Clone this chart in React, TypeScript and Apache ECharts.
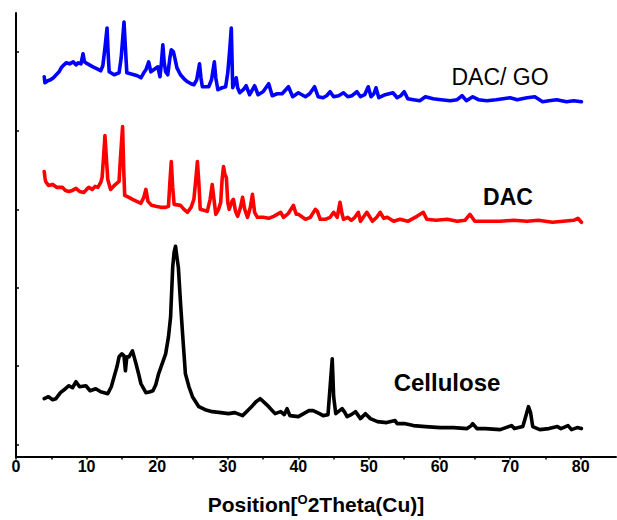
import React, { useEffect, useRef } from "react";
import * as echarts from "echarts";

// 2Theta positions and intensities (arbitrary units)
const celluloseX = [4.0, 4.6, 5.2, 5.65, 6.3, 7.0, 7.5, 8.0, 8.5, 9.0, 9.9, 10.5, 11.3, 12.0, 13.0, 13.5, 13.9, 14.3, 14.6, 15.0, 15.3, 15.5, 15.7, 16.0, 16.5, 17.0, 17.4, 17.7, 18.4, 19.0, 19.4, 19.8, 20.2, 20.7, 21.2, 21.6, 21.9, 22.2, 22.4, 22.6, 22.8, 23.0, 23.3, 23.6, 24.0, 24.5, 25.0, 25.9, 26.8, 27.8, 29.0, 30.1, 31.0, 32.1, 32.8, 33.5, 34.0, 34.6, 35.2, 35.8, 36.7, 37.5, 38.0, 38.4, 38.8, 40.0, 41.0, 41.5, 42.1, 43.0, 43.5, 44.2, 44.5, 44.8, 45.0, 45.3, 46.2, 46.6, 46.9, 47.5, 48.1, 48.8, 49.5, 50.2, 51.2, 52.5, 53.7, 54.0, 55.0, 56.3, 58.0, 60.1, 62.0, 63.9, 64.5, 64.7, 65.3, 66.5, 68.6, 70.2, 70.6, 71.8, 72.2, 72.6, 72.9, 73.2, 74.2, 75.5, 76.7, 77.2, 78.2, 78.7, 79.5, 80.1];
const celluloseY = [58, 60, 57, 58, 64, 68, 71, 69, 75, 70, 71, 66, 68, 65, 63, 70, 80, 90, 100, 103, 101, 86, 100, 100, 106, 93, 82, 73, 64, 65, 66, 72, 83, 93, 103, 120, 140, 190, 205, 211, 200, 190, 155, 123, 83, 70, 60, 50, 47, 45, 44, 43, 44, 41, 46, 51, 55, 58, 54, 50, 43, 45, 42, 48, 41, 40, 44, 46, 46, 43, 41, 42, 70, 98, 60, 43, 48, 44, 40, 42, 45, 38, 43, 38, 35, 34, 36, 33, 33, 31, 30, 29, 29, 28, 31, 33, 28, 28, 27, 31, 28, 30, 40, 50, 44, 30, 27, 28, 30, 28, 31, 27, 29, 28];

const dacX = [4.0, 4.1, 4.2, 4.6, 5.2, 5.8, 6.6, 7.0, 7.5, 8.0, 8.5, 9.0, 9.6, 10.0, 10.3, 10.8, 11.2, 11.6, 12.0, 12.2, 12.4, 12.6, 12.8, 13.0, 13.4, 13.8, 14.1, 14.6, 14.8, 15.1, 15.25, 15.4, 16.0, 16.5, 17.1, 17.7, 18.1, 18.4, 18.7, 19.2, 19.8, 20.5, 21.2, 21.6, 21.8, 22.0, 22.2, 22.4, 23.3, 23.8, 24.3, 24.8, 25.2, 25.5, 25.7, 25.9, 26.1, 26.6, 27.1, 27.5, 27.8, 28.1, 28.3, 28.7, 29.0, 29.2, 29.4, 29.6, 29.8, 30.0, 30.2, 30.6, 30.8, 31.1, 31.4, 31.8, 32.1, 32.4, 32.8, 33.2, 33.5, 33.8, 34.2, 35.0, 35.8, 36.5, 37.5, 37.9, 38.6, 39.3, 39.7, 40.0, 41.0, 41.7, 42.4, 42.7, 43.1, 43.8, 44.5, 45.0, 45.5, 45.9, 46.2, 46.4, 47.0, 47.5, 48.0, 48.5, 48.8, 49.7, 50.5, 51.1, 51.6, 52.1, 52.6, 53.5, 54.4, 55.5, 56.8, 57.7, 58.2, 59.5, 61.1, 62.5, 63.6, 64.3, 65.0, 66.5, 68.6, 70.5, 72.4, 74.0, 76.0, 77.5, 79.0, 79.6, 80.1];
const dacY = [286, 280, 276, 272, 273, 270, 270, 267, 266, 267, 269, 266, 265, 268, 270, 268, 271, 270, 275, 280, 300, 322, 300, 278, 268, 271, 273, 276, 300, 331, 290, 262, 260, 258, 256, 254, 260, 268, 256, 252, 251, 250, 250, 251, 275, 296, 270, 253, 252, 248, 245, 250, 258, 280, 296, 275, 248, 247, 246, 258, 273, 255, 243, 248, 255, 278, 291, 283, 280, 255, 248, 256, 258, 246, 241, 250, 260, 248, 240, 250, 263, 245, 240, 240, 239, 241, 245, 240, 244, 252, 243, 243, 238, 240, 248, 246, 238, 238, 240, 245, 240, 255, 243, 238, 240, 237, 240, 245, 236, 245, 236, 240, 245, 239, 240, 236, 238, 236, 241, 245, 238, 237, 238, 236, 237, 243, 236, 236, 236, 237, 236, 237, 235, 236, 237, 239, 235];

const dacGoX = [4.0, 4.1, 4.5, 4.9, 5.3, 5.7, 6.1, 6.4, 6.8, 7.1, 7.6, 8.1, 8.5, 8.8, 9.2, 9.5, 9.7, 9.9, 10.4, 10.9, 11.5, 12.0, 12.3, 12.6, 12.9, 13.05, 13.2, 13.9, 14.6, 14.9, 15.3, 15.5, 15.7, 16.2, 16.7, 17.2, 17.7, 18.1, 18.4, 18.8, 19.1, 19.5, 20.1, 20.4, 20.6, 20.8, 21.0, 21.2, 21.5, 21.8, 22.0, 22.3, 22.5, 22.8, 23.3, 23.8, 24.3, 24.8, 25.2, 25.6, 26.0, 26.2, 26.4, 27.3, 27.7, 28.1, 28.3, 28.6, 29.2, 29.7, 30.0, 30.3, 30.5, 30.7, 31.2, 31.4, 31.7, 32.2, 32.6, 33.1, 33.8, 34.3, 35.0, 35.8, 36.3, 37.0, 37.7, 38.6, 39.2, 40.0, 41.0, 41.6, 42.3, 42.8, 43.5, 44.0, 44.5, 45.0, 45.7, 46.4, 47.0, 47.6, 48.3, 48.8, 49.4, 49.9, 50.3, 50.7, 51.0, 51.4, 52.3, 53.4, 54.0, 54.5, 55.0, 55.5, 56.3, 57.2, 58.0, 59.1, 60.2, 61.5, 62.5, 63.2, 63.8, 64.7, 65.5, 66.7, 68.0, 69.0, 70.0, 71.0, 72.4, 73.5, 74.6, 75.5, 76.6, 78.0, 79.0, 80.1];
const dacGoY = [381, 375, 377, 378, 380, 383, 386, 390, 393, 395, 394, 396, 393, 395, 394, 404, 396, 395, 393, 391, 389, 387, 392, 410, 430, 405, 386, 383, 385, 400, 436, 410, 385, 384, 383, 382, 380, 385, 388, 396, 386, 388, 391, 381, 395, 413, 395, 386, 383, 400, 408, 406, 400, 390, 383, 379, 376, 374, 373, 378, 394, 380, 371, 371, 378, 396, 380, 368, 370, 371, 385, 410, 430, 370, 380, 370, 365, 368, 372, 363, 372, 363, 366, 374, 362, 364, 364, 371, 361, 365, 361, 364, 371, 361, 360, 362, 366, 361, 362, 365, 361, 362, 366, 361, 363, 371, 361, 364, 370, 360, 363, 365, 360, 362, 366, 359, 358, 357, 361, 359, 358, 357, 358, 362, 357, 361, 358, 357, 358, 359, 360, 358, 360, 361, 356, 357, 358, 356, 357, 356];

const xTickLabels = [0, 10, 20, 30, 40, 50, 60, 70, 80];
const xMinorTicks = [0, 5, 10, 15, 20, 25, 30, 35, 40, 45, 50, 55, 60, 65, 70, 75, 80];
const yTicks = [12, 91, 169, 248, 327, 406];

const seriesNames = ["Cellulose", "DAC", "DAC/ GO"];

const zip = (xs: number[], ys: number[]) => xs.map((x, i) => [x, ys[i]]);

const FONT = "'Liberation Sans', Arial, sans-serif";

export default function App() {
  const ref = useRef<HTMLDivElement>(null);
  useEffect(() => {
    if (!ref.current) return;
    const chart = echarts.init(ref.current, undefined, { renderer: "svg" });
    const lineStyle = (color: string) => ({ color, width: 3.6, join: "round", cap: "round" });
    chart.setOption({
      animation: false,
      backgroundColor: "#ffffff",
      grid: { left: 16, right: 1, top: 13, bottom: 62, containLabel: false },
      xAxis: {
        type: "value",
        min: 0,
        max: 85,
        interval: 10,
        axisLine: { show: true, lineStyle: { color: "#000", width: 2 } },
        axisTick: {
          show: true,
          customValues: xMinorTicks,
          length: 3,
          lineStyle: { color: "#000", width: 1.5 },
        },
        axisLabel: {
          customValues: xTickLabels,
          color: "#000",
          fontFamily: FONT,
          fontWeight: "bold",
          fontSize: 16,
          margin: 2,
        },
        splitLine: { show: false },
        name: "{b|Position[}{s|O}{b|2Theta(Cu)]}",
        nameLocation: "middle",
        nameGap: 36,
        nameTextStyle: {
          rich: {
            b: { fontFamily: FONT, fontWeight: "bold", fontSize: 21, color: "#000", lineHeight: 24 },
            s: { fontFamily: FONT, fontWeight: "bold", fontSize: 13, color: "#000", verticalAlign: "top", lineHeight: 14 },
          },
        },
      },
      yAxis: {
        type: "value",
        min: 0,
        max: 445,
        axisLine: { show: true, lineStyle: { color: "#000", width: 2 } },
        axisTick: {
          show: true,
          inside: true,
          length: 3,
          customValues: yTicks,
          lineStyle: { color: "#000", width: 1.5 },
        },
        axisLabel: { show: false },
        splitLine: { show: false },
      },
      series: [
        { name: seriesNames[0], type: "line", data: zip(celluloseX, celluloseY), showSymbol: false, lineStyle: lineStyle("#000000"), itemStyle: { color: "#000000" } },
        { name: seriesNames[1], type: "line", data: zip(dacX, dacY), showSymbol: false, lineStyle: lineStyle("#ff0000"), itemStyle: { color: "#ff0000" } },
        { name: seriesNames[2], type: "line", data: zip(dacGoX, dacGoY), showSymbol: false, lineStyle: lineStyle("#0000ff"), itemStyle: { color: "#0000ff" } },
      ],
      graphic: [
        { type: "text", x: 500, y: 77, style: { text: "DAC/ GO", fontFamily: FONT, fontSize: 23, fontWeight: "normal", fill: "#000", align: "center", verticalAlign: "middle" } },
        { type: "text", x: 508, y: 197, style: { text: "DAC", fontFamily: FONT, fontSize: 23, fontWeight: "bold", fill: "#000", align: "center", verticalAlign: "middle" } },
        { type: "text", x: 447, y: 382, style: { text: "Cellulose", fontFamily: FONT, fontSize: 24, fontWeight: "bold", fill: "#000", align: "center", verticalAlign: "middle" } },
      ],
    });
    return () => chart.dispose();
  }, []);
  return <div ref={ref} style={{ position: "absolute", left: 0, top: 0, width: 617, height: 520 }} />;
}
